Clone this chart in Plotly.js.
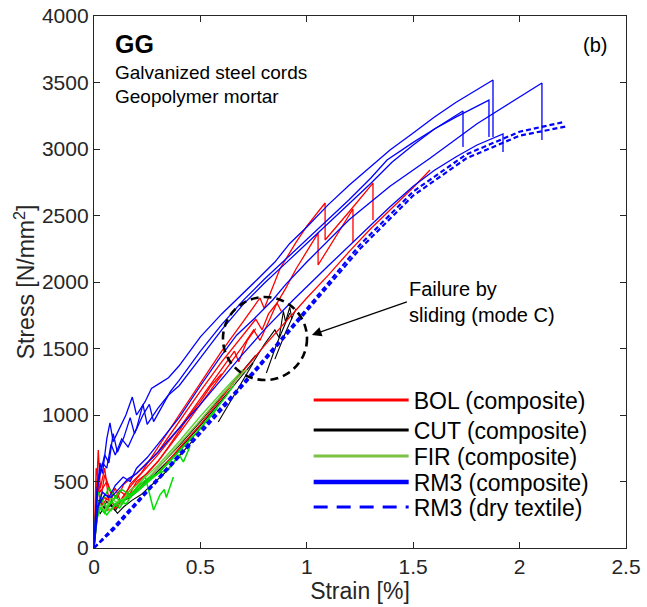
<!DOCTYPE html>
<html>
<head>
<meta charset="utf-8">
<script src="https://cdn.plot.ly/plotly-3.0.1.min.js"></script>
<style>
html,body{margin:0;padding:0;background:#fff;}
#chart{width:647px;height:607px;}
</style>
</head>
<body>
<div id="chart"></div>
<script>
// ---- Data (strain in %, stress in N/mm2) ----
const xTickVals = [0, 0.5, 1, 1.5, 2, 2.5];
const xTickText = ['0', '0.5', '1', '1.5', '2', '2.5'];
const yTickVals = [0, 500, 1000, 1500, 2000, 2500, 3000, 3500, 4000];
const yTickText = ['0', '500', '1000', '1500', '2000', '2500', '3000', '3500', '4000'];

const seriesNames = ['BOL (composite)', 'CUT (composite)', 'FIR (composite)', 'RM3 (composite)', 'RM3 (dry textile)'];

// BOL (composite) - red
const bolStrain = [
  [0,0.01,0.02,0.03,0.05,0.07,0.1,0.13,0.17,0.22,0.3,0.4,0.5,0.6,0.7,0.78,0.8,0.84,0.874,0.95,1.0,1.086,1.086,1.2,1.311,1.311],
  [0,0.015,0.03,0.05,0.08,0.11,0.14,0.2,0.3,0.4,0.5,0.6,0.7,0.76,0.79,0.82,0.86,0.9,0.95,1.0,1.053,1.053,1.1,1.217,1.217],
  [0,0.02,0.05,0.1,0.15,0.2,0.3,0.4,0.5,0.6,0.7,0.75,0.78,0.82,0.86,0.88],
  [0,0.02,0.04,0.07,0.1,0.15,0.2,0.3,0.4,0.5,0.6,0.66,0.68,0.72,0.76],
  [0,0.02,0.05,0.1,0.15,0.2,0.3,0.4,0.5,0.6,0.7,0.8,0.9,1.0,1.1,1.2,1.3,1.39,1.5,1.579],
  [0,0.01,0.03,0.06,0.09,0.12,0.16,0.2,0.25,0.3,0.35,0.4,0.45,0.5,0.55,0.6]
];
const bolStress = [
  [0,400,737,450,600,350,450,330,480,560,760,1000,1240,1480,1700,1880,1800,1962,2100,2300,2420,2594,2316,2530,2744,2466],
  [0,500,350,550,420,380,480,560,720,950,1180,1400,1600,1720,1640,1760,1842,1950,2100,2230,2368,2128,2250,2549,2300],
  [0,300,380,320,400,480,650,860,1080,1300,1520,1640,1560,1700,1842,1780],
  [0,450,320,400,300,420,520,700,900,1120,1340,1480,1400,1560,1650],
  [0,350,280,300,370,430,560,750,930,1130,1330,1520,1700,1880,2050,2230,2400,2541,2710,2842],
  [0,600,420,500,360,430,380,500,560,650,760,880,1000,1100,1220,1310]
];

// CUT (composite) - black
const cutStrain = [
  [0,0.01,0.03,0.05,0.08,0.1,0.13,0.17,0.22,0.3,0.4,0.5,0.6,0.7,0.75,0.8,0.85,0.87,0.89,0.9,0.92,0.93],
  [0,0.01,0.03,0.06,0.09,0.12,0.16,0.2,0.3,0.4,0.5,0.6,0.7,0.76],
  [0.584,0.66,0.748],
  [0.81,0.86,0.92],
  [0.85,0.9,0.95],
  [0,0.01,0.02,0.05,0.08,0.11,0.14,0.18,0.22,0.27,0.33,0.4,0.46]
];
const cutStress = [
  [0,250,350,290,320,280,350,380,450,580,740,920,1110,1300,1400,1530,1640,1580,1780,1700,1810,1720],
  [0,300,260,350,300,330,400,430,600,770,950,1140,1330,1450],
  [947,1150,1391],
  [1316,1540,1767],
  [1420,1620,1800],
  [0,280,360,300,330,260,310,360,400,470,560,690,800]
];

// FIR (composite) - green
const firStrain = [
  [0,0.01,0.03,0.05,0.08,0.11,0.15,0.2,0.3,0.4,0.5,0.6,0.7,0.72],
  [0,0.01,0.03,0.06,0.1,0.15,0.2,0.24,0.28,0.31,0.33,0.34,0.373],
  [0,0.02,0.05,0.08,0.12,0.16,0.2,0.25,0.3,0.35,0.4,0.42,0.45],
  [0,0.02,0.05,0.08,0.12,0.16,0.2,0.3,0.4,0.5,0.6,0.68,0.7],
  [0,0.01,0.03,0.06,0.1,0.15,0.2,0.3,0.4,0.5,0.58],
  [0,0.01,0.02,0.04,0.07,0.1,0.13,0.17,0.21,0.25,0.3,0.35,0.4,0.48,0.55,0.62,0.66]
];
const firStress = [
  [0,250,300,330,280,350,380,440,600,780,960,1150,1320,1340],
  [0,280,380,300,380,330,450,540,286,400,440,380,534],
  [0,320,260,350,300,400,430,500,560,590,700,647,760],
  [0,350,280,380,320,420,470,620,800,990,1170,1300,1340],
  [0,200,300,250,330,370,420,560,730,900,1050],
  [0,330,420,360,450,380,440,400,470,520,560,640,730,860,1000,1140,1230]
];

// RM3 (composite) - blue
const rm3Strain = [
  [0,0.01,0.028,0.04,0.06,0.075,0.09,0.12,0.15,0.18,0.2,0.24,0.27,0.31,0.35,0.4,0.5,0.6,0.7,0.765,0.85,0.92,1.0,1.1,1.2,1.3,1.391,1.5,1.6,1.7,1.8,1.875,1.875],
  [0,0.015,0.03,0.05,0.07,0.09,0.11,0.14,0.17,0.19,0.23,0.26,0.28,0.32,0.36,0.4,0.5,0.6,0.7,0.8,0.9,1.0,1.1,1.2,1.3,1.377,1.5,1.6,1.7,1.8,1.856,1.856],
  [0,0.02,0.04,0.06,0.08,0.1,0.13,0.16,0.2,0.23,0.25,0.3,0.35,0.4,0.5,0.6,0.7,0.8,0.9,1.0,1.1,1.2,1.3,1.4,1.5,1.6,1.734,1.734],
  [0,0.015,0.04,0.07,0.1,0.137,0.17,0.2,0.25,0.3,0.4,0.5,0.6,0.67,0.75,0.84,0.9,1.0,1.2,1.391,1.579,1.8,2.0,2.105,2.105],
  [0,0.02,0.05,0.08,0.12,0.16,0.2,0.25,0.3,0.4,0.5,0.6,0.7,0.8,0.936,1.1,1.25,1.39,1.5,1.6,1.7,1.8,1.922,1.922]
];
const rm3Stress = [
  [0,350,640,560,820,940,800,900,1000,1135,1000,1100,1200,1240,1280,1370,1587,1760,1910,2015,2150,2290,2413,2580,2730,2870,2992,3120,3240,3350,3450,3519,3090],
  [0,450,560,700,640,860,720,830,980,860,1000,1080,950,1060,1180,1260,1480,1680,1860,2020,2170,2320,2470,2620,2780,2917,3050,3150,3240,3320,3368,3090],
  [0,520,640,600,780,700,820,760,900,1080,930,1050,1150,1220,1430,1640,1830,1990,2140,2290,2440,2590,2740,2900,3030,3150,3286,3015],
  [0,300,420,380,470,534,500,600,680,780,980,1220,1450,1600,1720,1865,1980,2150,2470,2720,2930,3190,3390,3496,3068],
  [0,320,400,380,450,520,560,640,720,900,1080,1270,1460,1640,1865,2120,2350,2564,2720,2840,2940,3030,3113,2977]
];

// RM3 (dry textile) - blue dashed
const dryStrain = [
  [0,0.1,0.25,0.5,0.75,1.0,1.25,1.5,1.75,2.0,2.2],
  [0,0.1,0.25,0.5,0.75,1.0,1.25,1.5,1.75,2.0,2.22]
];
const dryStress = [
  [0,170,436,880,1330,1800,2280,2680,2960,3130,3200],
  [0,150,420,860,1310,1780,2250,2650,2930,3100,3170]
];

// ---- Build traces ----
const FONT = 'Liberation Sans, Arial, Helvetica, sans-serif';
const traces = [];
function addGroup(xs, ys, group, colors, width, dash) {
  xs.forEach((x, i) => {
    traces.push({
      x: x, y: ys[i], type: 'scatter', mode: 'lines',
      legendgroup: group, showlegend: false,
      line: {color: Array.isArray(colors) ? colors[i % colors.length] : colors, width: width, dash: dash || 'solid'},
      hoverinfo: 'skip'
    });
  });
}
addGroup(cutStrain, cutStress, 'cut', '#000000', 1.1);
addGroup(bolStrain, bolStress, 'bol', '#ff0000', 1.3);
addGroup(firStrain, firStress, 'fir', ['#7cc142', '#00e000', '#00dd00', '#5fcf3a', '#00e600', '#00d800'], 1.5);
addGroup(rm3Strain, rm3Stress, 'rm3', '#0000ff', 1.3);
addGroup(dryStrain, dryStress, 'dry', '#0000ff', 2.2, '5px,3px');

// legend entries (one legend box per entry, so the spacing follows the reference)
const legendStyle = [
  {group: 'bol', color: '#ff0000', width: 3, dash: 'solid', y: 400},
  {group: 'cut', color: '#000000', width: 3, dash: 'solid', y: 430},
  {group: 'fir', color: '#7cc142', width: 3, dash: 'solid', y: 456},
  {group: 'rm3', color: '#0000ff', width: 4.5, dash: 'solid', y: 482},
  {group: 'dry', color: '#0000ff', width: 3, dash: '14px,9px', y: 507}
];
const PLOT_TOP = 16, PLOT_H = 532;
const legendLayouts = {};
legendStyle.forEach((s, i) => {
  const key = i === 0 ? 'legend' : 'legend' + (i + 1);
  traces.push({
    x: [null], y: [null], type: 'scatter', mode: 'lines',
    name: seriesNames[i], legendgroup: s.group, showlegend: true, legend: key,
    line: {color: s.color, width: s.width, dash: s.dash}, hoverinfo: 'skip'
  });
  legendLayouts[key] = {
    x: 0.4035, y: (PLOT_TOP + PLOT_H - s.y) / PLOT_H, xanchor: 'left', yanchor: 'middle',
    bgcolor: 'rgba(0,0,0,0)', borderwidth: 0,
    font: {family: FONT, size: 23, color: '#000000'},
    itemwidth: 95
  };
});

const axisCommon = {
  showline: true, linecolor: '#262626', linewidth: 1.2, mirror: 'ticks',
  ticks: 'inside', ticklen: 6, tickwidth: 1, tickcolor: '#262626',
  showgrid: false, zeroline: false,
  tickfont: {family: FONT, size: 21, color: '#262626'}
};

const layout = Object.assign({
  width: 647, height: 607,
  margin: {l: 94, r: 21, t: 16, b: 59, pad: 0},
  paper_bgcolor: '#ffffff', plot_bgcolor: '#ffffff',
  font: {family: FONT, color: '#262626'},
  showlegend: true,
  xaxis: Object.assign({}, axisCommon, {
    range: [0, 2.5], tickvals: xTickVals, ticktext: xTickText,
    title: {text: 'Strain [%]', font: {family: FONT, size: 23, color: '#262626'}, standoff: 4}
  }),
  yaxis: Object.assign({}, axisCommon, {
    range: [0, 4000], tickvals: yTickVals, ticktext: yTickText,
    title: {text: 'Stress [N/mm<sup>2</sup>]', font: {family: FONT, size: 23, color: '#262626'}, standoff: 0}
  }),
  shapes: [{
    type: 'circle', xref: 'x', yref: 'y', x0: 0.606, x1: 1.001, y0: 1263, y1: 1887,
    line: {color: '#000000', width: 2.6, dash: '8px,5px'}
  }],
  annotations: [
    {xref: 'paper', yref: 'paper', x: 0.036, y: 0.947, xanchor: 'left', yanchor: 'middle', showarrow: false,
     text: '<b>GG</b>', font: {family: FONT, size: 25, color: '#000000'}},
    {xref: 'paper', yref: 'paper', x: 0.036, y: 0.893, xanchor: 'left', yanchor: 'middle', showarrow: false,
     text: 'Galvanized steel cords', font: {family: FONT, size: 19, color: '#000000'}},
    {xref: 'paper', yref: 'paper', x: 0.036, y: 0.848, xanchor: 'left', yanchor: 'middle', showarrow: false,
     text: 'Geopolymer mortar', font: {family: FONT, size: 19, color: '#000000'}},
    {xref: 'paper', yref: 'paper', x: 0.942, y: 0.946, xanchor: 'center', yanchor: 'middle', showarrow: false,
     text: '(b)', font: {family: FONT, size: 20, color: '#000000'}},
    {xref: 'x', yref: 'y', x: 1.024, y: 1602, ax: 95, ay: -33,
     xanchor: 'left', yanchor: 'middle', align: 'left',
     text: 'Failure by<br>sliding (mode C)', font: {family: FONT, size: 20, color: '#000000'},
     showarrow: true, arrowhead: 2, arrowsize: 1.6, arrowwidth: 1.2, arrowcolor: '#000000', standoff: 0}
  ]
}, legendLayouts);

Plotly.newPlot('chart', traces, layout, {displayModeBar: false, staticPlot: true});
</script>
</body>
</html>
